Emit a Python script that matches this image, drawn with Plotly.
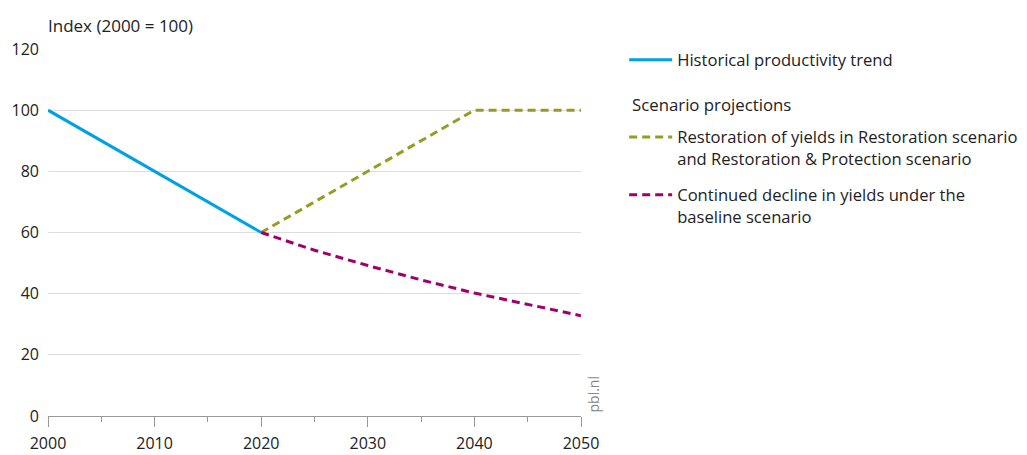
import plotly.graph_objects as go

years_hist = [2000, 2020]
hist_vals = [100, 60]

years_rest = [2020, 2040, 2050]
rest_vals = [60, 100, 100]

years_base = [2020, 2025, 2030, 2035, 2040, 2045, 2050]
base_vals = [60, 54.2, 49.2, 44.5, 40.2, 36.4, 32.8]

x_ticks = [2000, 2010, 2020, 2030, 2040, 2050]
y_ticks = [0, 20, 40, 60, 80, 100, 120]

names = [
    "Historical productivity trend",
    "Restoration of yields in Restoration scenario<br>and Restoration &amp; Protection scenario",
    "Continued decline in yields under the<br>baseline scenario",
]

FONT = "Open Sans"
TXT = "#222"
fig = go.Figure()
fig.add_trace(go.Scatter(x=years_hist, y=hist_vals, mode="lines", name=names[0],
                         line=dict(color="#00a0e4", width=3), legend="legend"))
fig.add_trace(go.Scatter(x=years_rest, y=rest_vals, mode="lines", name=names[1],
                         line=dict(color="#979c20", width=3, dash="8px,5px"), legend="legend2"))
fig.add_trace(go.Scatter(x=years_base, y=base_vals, mode="lines", name=names[2],
                         line=dict(color="#a0006a", width=3, dash="8px,5px"), legend="legend3"))

leg_common = dict(x=1.081, xanchor="left", yanchor="middle", itemwidth=43, valign="top",
                  font=dict(size=16.6, color=TXT), bgcolor="rgba(0,0,0,0)")

fig.update_layout(
    width=1019, height=447,
    margin=dict(l=40, r=446, t=41, b=39, autoexpand=False),
    plot_bgcolor="white", paper_bgcolor="white",
    font=dict(family=FONT, size=15, color=TXT),
    showlegend=True,
    legend=dict(y=0.970, **leg_common),
    legend2=dict(y=0.730, **leg_common),
    legend3=dict(y=0.572, **leg_common),
    annotations=[
        dict(text="Index (2000 = 100)", x=0, y=1, xref="paper", yref="paper",
             xanchor="left", yanchor="bottom", yshift=10, xshift=-2, showarrow=False,
             font=dict(size=17, color=TXT)),
        dict(text="Scenario projections", x=1.092, y=0.850, xref="paper", yref="paper",
             xanchor="left", yanchor="middle", showarrow=False,
             font=dict(size=16.8, color=TXT)),
        dict(text="pbl.nl", x=1, y=0, xref="paper", yref="paper", xanchor="left",
             yanchor="bottom", xshift=0, yshift=1, textangle=-90, showarrow=False,
             font=dict(size=14, color="#888")),
    ],
)
fig.update_xaxes(range=[2000, 2050], tickvals=x_ticks, ticks="outside", ticklen=10,
                 tickcolor="#999", showline=True, linecolor="#999", linewidth=1,
                 showgrid=False, zeroline=False, ticklabelstandoff=3,
                 minor=dict(dtick=5, tick0=2000, ticks="outside", ticklen=5, tickcolor="#999", showgrid=False),
                 tickfont=dict(size=16))
fig.update_yaxes(range=[0, 120], tickvals=y_ticks, showgrid=True, gridcolor="#dcdcdc",
                 zeroline=False, showline=False, ticks="", ticklabelstandoff=8,
                 tickfont=dict(size=16))

fig.write_html("out.html")
